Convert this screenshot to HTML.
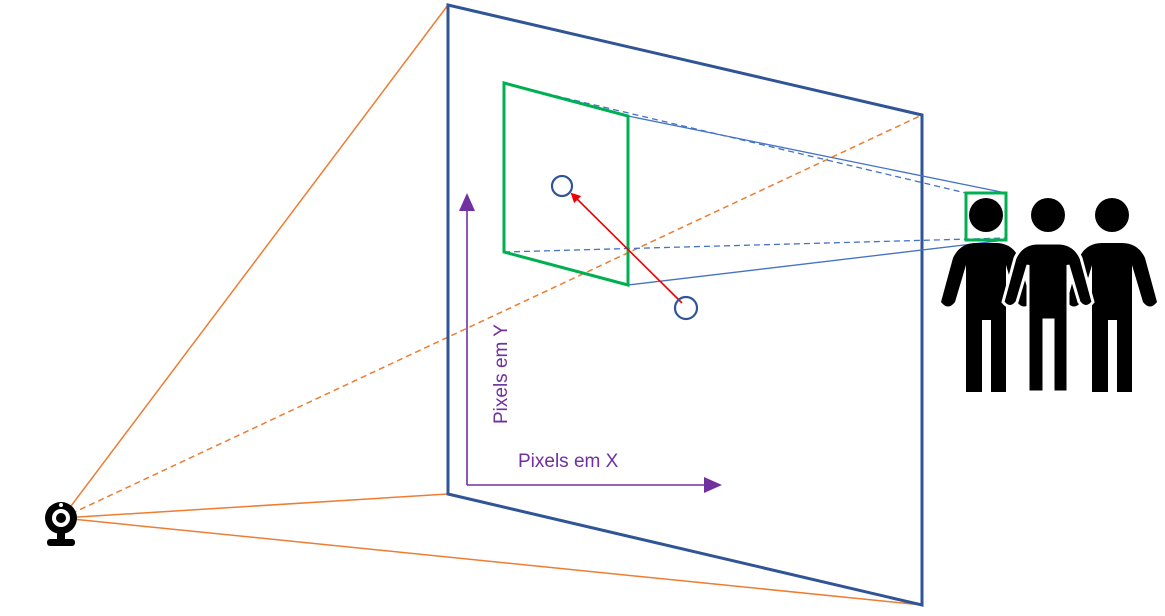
<!DOCTYPE html>
<html><head><meta charset="utf-8"><style>
html,body{margin:0;padding:0;background:#fff;}
svg{display:block;}
text{font-family:"Liberation Sans",sans-serif;}
</style></head><body>
<svg width="1165" height="616" viewBox="0 0 1165 616">
<defs>
<marker id="ar" markerWidth="10" markerHeight="10" refX="8" refY="5" orient="auto" markerUnits="userSpaceOnUse"><path d="M0,0 L10,5 L0,10 z" fill="#e00"/></marker>
<marker id="ap" markerWidth="18" markerHeight="16" refX="16" refY="8" orient="auto" markerUnits="userSpaceOnUse"><path d="M0,0 L18,8 L0,16 z" fill="#7030A0"/></marker>
</defs>
<g stroke="#ED7D31" stroke-width="1.5" fill="none">
<line x1="62" y1="518" x2="448" y2="5"/>
<line x1="62" y1="518" x2="448" y2="494"/>
<line x1="62" y1="518" x2="922" y2="605"/>
<line x1="62" y1="518" x2="922" y2="115" stroke-dasharray="6,4"/>
</g>
<polygon points="448,5 922,115 922,605 448,494" fill="none" stroke="#2F5597" stroke-width="3"/>
<g stroke="#4472C4" stroke-width="1.3" fill="none">
<line x1="628" y1="116" x2="1006" y2="193"/>
<line x1="628" y1="285" x2="1006" y2="240"/>
<line x1="506" y1="84" x2="966" y2="193" stroke-dasharray="6,4"/>
<line x1="504" y1="252" x2="1006" y2="238" stroke-dasharray="6,4"/>
</g>
<polygon points="504,83 628,116 628,285 504,252" fill="none" stroke="#00B050" stroke-width="3"/>
<line x1="682" y1="303" x2="572" y2="194" stroke="#e00" stroke-width="1.6" marker-end="url(#ar)"/>
<circle cx="562" cy="186" r="10" fill="none" stroke="#2F5597" stroke-width="2.2"/>
<circle cx="686" cy="308" r="11" fill="none" stroke="#2F5597" stroke-width="2.2"/>
<line x1="467" y1="485" x2="467" y2="195" stroke="#7030A0" stroke-width="1.6" marker-end="url(#ap)"/>
<line x1="467" y1="485" x2="720" y2="485" stroke="#7030A0" stroke-width="1.6" marker-end="url(#ap)"/>
<text x="518" y="467" font-size="19" fill="#7030A0">Pixels em X</text>
<text transform="translate(507,424) rotate(-90)" font-size="19" fill="#7030A0">Pixels em Y</text>
<g>
<circle cx="61" cy="518" r="16" fill="#000"/>
<circle cx="61" cy="518" r="9" fill="#fff"/>
<circle cx="61" cy="518" r="5" fill="#000"/>
<circle cx="61" cy="505" r="2" fill="#fff"/>
<rect x="57" y="532" width="8" height="8" fill="#000"/>
<rect x="47" y="539" width="28" height="7" rx="3" fill="#000"/>
</g>
<g fill="#000">
<g>
<circle cx="986" cy="215" r="17"/>
<path d="M966,392 L966,265 L955,302 Q948,311 941,302 L953,258 Q960,243 976,243 L996,243 Q1012,243 1019,258 L1031,302 Q1024,311 1017,302 L1006,265 L1006,392 L991,392 L991,320 L982,320 L982,392 Z"/>
</g>
<g>
<circle cx="1112" cy="215" r="17"/>
<path d="M1092,392 L1092,265 L1081,302 Q1074,311 1067,302 L1079,258 Q1086,243 1102,243 L1122,243 Q1138,243 1145,258 L1157,302 Q1150,311 1143,302 L1132,265 L1132,392 L1117,392 L1117,320 L1108,320 L1108,392 Z"/>
</g>
<g stroke="#fff" stroke-width="3">
<circle cx="1048" cy="215" r="17" stroke="none"/>
<path d="M1028,392 L1028,265 L1017,302 Q1010,311 1003,302 L1015,258 Q1022,243 1038,243 L1058,243 Q1074,243 1081,258 L1093,302 Q1086,311 1079,302 L1068,265 L1068,392 L1053,392 L1053,320 L1044,320 L1044,392 Z"/>
</g>
</g>
<rect x="966" y="193" width="40" height="47" fill="none" stroke="#00B050" stroke-width="3"/>
</svg>
</body></html>
